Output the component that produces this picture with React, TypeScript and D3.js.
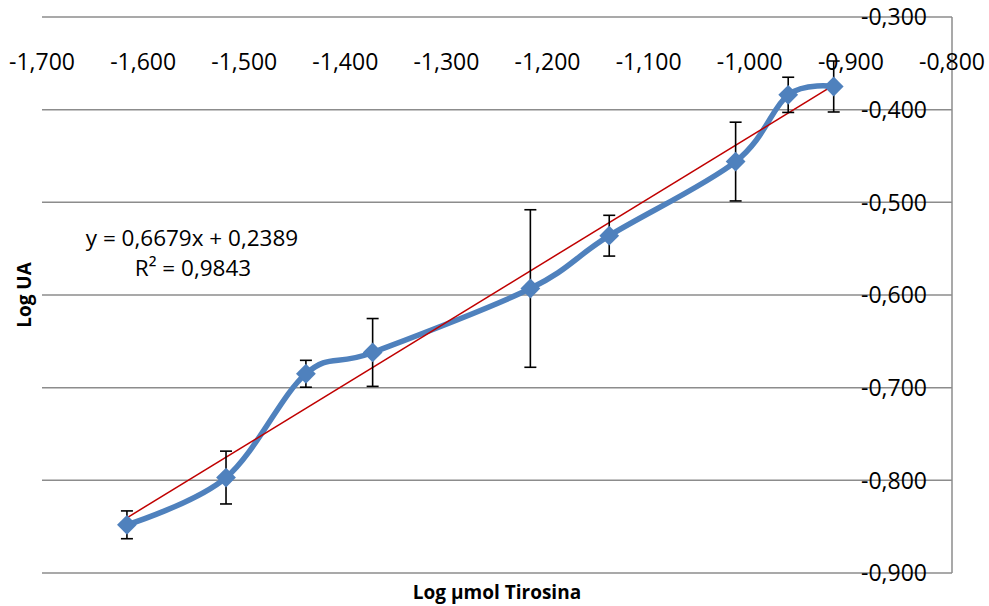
import React from "react";
import * as d3 from "d3";

const xValues = [-1.616, -1.518, -1.439, -1.373, -1.217, -1.139, -1.014, -0.962, -0.917];
const yValues = [-0.848, -0.797, -0.685, -0.662, -0.593, -0.536, -0.456, -0.384, -0.375];
const yErrors = [0.015, 0.0285, 0.0145, 0.0366, 0.085, 0.022, 0.0425, 0.019, 0.0275];
const xTicks = [-1.7, -1.6, -1.5, -1.4, -1.3, -1.2, -1.1, -1.0, -0.9, -0.8];
const yTicks = [-0.3, -0.4, -0.5, -0.6, -0.7, -0.8, -0.9];
const slope = 0.6679;
const intercept = 0.2389;

const fmt = (v: number) => v.toFixed(3).replace(".", ",");

export default function App() {
  const W = 989, H = 606;
  const x = d3.scaleLinear().domain([-1.7, -0.8]).range([42, 952]);
  const y = d3.scaleLinear().domain([-0.9, -0.3]).range([573, 17]);
  const pts: [number, number][] = xValues.map((v, i) => [x(v), y(yValues[i])]);
  const line = d3.line().curve(d3.curveCardinal.tension(0))(pts) || "";
  const x0 = xValues[0], x1 = xValues[xValues.length - 1];
  const font = "'Open Sans', 'DejaVu Sans', sans-serif";
  const diamond = d3.symbol().type(d3.symbolDiamond2).size(250)() || "";
  return (
    <svg width={W} height={H} style={{ position: "absolute", left: 0, top: 0, background: "#fff" }}>
      {yTicks.map((t) => (
        <line key={"g" + t} x1={42} x2={952} y1={y(t)} y2={y(t)} stroke="#8c8c8c" strokeWidth={1.5} />
      ))}
      <line x1={952} x2={952} y1={y(-0.3)} y2={y(-0.9)} stroke="#8c8c8c" strokeWidth={1.5} />
      {yTicks.map((t) => (
        <text key={"yl" + t} x={927} y={y(t)} dy="0.36em" textAnchor="end" fontFamily={font} fontSize={23} fill="#000">
          {fmt(t)}
        </text>
      ))}
      {xTicks.map((t) => (
        <text key={"xl" + t} x={x(t)} y={62} dy="0.36em" textAnchor="middle" fontFamily={font} fontSize={23} fill="#000">
          {fmt(t)}
        </text>
      ))}
      <path d={line} fill="none" stroke="#4F81BD" strokeWidth={5.5} />
      <line x1={x(x0)} y1={y(slope * x0 + intercept)} x2={x(x1)} y2={y(slope * x1 + intercept)} stroke="#C00000" strokeWidth={1.5} />
      {xValues.map((v, i) => {
        const cx = x(v);
        const top = y(yValues[i] + yErrors[i]);
        const bot = y(yValues[i] - yErrors[i]);
        return (
          <g key={"e" + i} stroke="#000" strokeWidth={1.6}>
            <line x1={cx} x2={cx} y1={top} y2={bot} />
            <line x1={cx - 6} x2={cx + 6} y1={top} y2={top} />
            <line x1={cx - 6} x2={cx + 6} y1={bot} y2={bot} />
          </g>
        );
      })}
      {pts.map((p, i) => (
        <path key={"m" + i} d={diamond} transform={`translate(${p[0]},${p[1]})`} fill="#4F81BD" />
      ))}
      <text x={192} y={238} dy="0.36em" textAnchor="middle" fontFamily={font} fontSize={22.5} fill="#000">
        y = 0,6679x + 0,2389
      </text>
      <text x={193} y={268} dy="0.36em" textAnchor="middle" fontFamily={font} fontSize={22.5} fill="#000">
        R² = 0,9843
      </text>
      <text transform={`translate(24,${y(-0.6)}) rotate(-90)`} dy="0.36em" textAnchor="middle" fontFamily={font} fontSize={19} fontWeight="bold" fill="#000">
        Log UA
      </text>
      <text x={497} y={592} dy="0.36em" textAnchor="middle" fontFamily={font} fontSize={19} fontWeight="bold" fill="#000">
        Log µmol Tirosina
      </text>
    </svg>
  );
}
